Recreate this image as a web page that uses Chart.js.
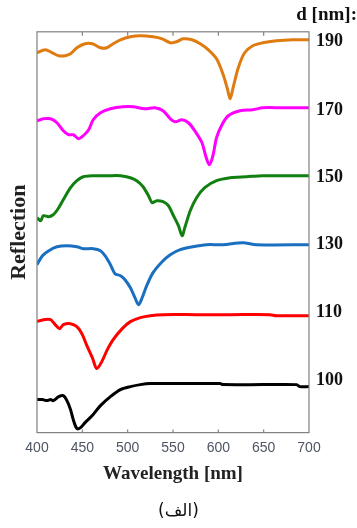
<!DOCTYPE html>
<html>
<head>
<meta charset="utf-8">
<script src="https://cdn.jsdelivr.net/npm/chart.js@4"></script>
<style>
  body { margin: 0; background: #fff; }
  #wrap { width: 357px; height: 528px; }
</style>
</head>
<body>
<div id="wrap"><canvas id="chart"></canvas></div>
<script>
'use strict';

// reflection spectra, offset vertically (arbitrary units)
const wl190 = [400,409,417,424,431,437,444,453,461,470,477,484,492,503,514,528,538,547,554,561,571,580,589,598,605,610,613,616,622,629,638,649,664,682,700];
const r190  = [380,383,380,377,377,379,385,389,389,385,385,389,393,396,397,396,394,390,391,394,393,389,383,374,359,344,334,344,365,380,387,390,392,393,393];

const wl170 = [400,407,415,422,429,435,440,446,451,457,462,470,481,495,506,519,530,539,547,552,560,567,574,582,586,590,594,598,604,611,624,638,649,671,700];
const r170  = [312,314,314,310,302,298,298,294,297,303,313,320,324,326,326,324,325,322,314,311,313,310,302,290,277,268,277,295,308,317,322,323,325,325,325];

const wl150 = [400,404,407,413,418,424,429,437,444,451,462,477,492,503,510,517,523,527,532,539,545,550,556,560,563,569,576,585,598,613,631,649,700];
const r150  = [215,212,217,216,218,225,233,245,252,256,257,257,257,255,252,246,237,230,232,231,227,218,207,197,205,222,235,245,252,255,256,257,257];

const wl130 = [400,406,413,422,433,444,451,462,470,475,481,486,492,497,503,508,512,516,521,528,538,547,558,572,587,605,627,642,700];
const r130  = [168,177,182,186,187,186,184,184,182,177,168,159,157,153,145,135,128,135,147,160,171,178,183,186,188,188,190,188,188];

const wl110 = [400,407,415,420,425,429,437,444,450,455,461,466,472,477,484,494,503,514,525,539,576,613,657,664,700];
const r110  = [111,113,113,108,104,108,109,106,98,87,75,64,72,82,93,104,111,115,117,118,118,118,118,117,117];

const wl100 = [400,406,411,415,418,424,429,433,437,440,444,448,453,461,470,481,492,503,514,525,558,602,605,649,686,690,700];
const r100  = [33,33,32,33,32,36,37,32,23,13,4,5,10,17,27,36,43,46,48,49,49,49,48,48,48,46,46];

// thickness labels on the right, at each curve's plateau level
const dLabels = ['190','170','150','130','110','100'];
const dLevels = [391,322,255,188,120,52];

const xTicks = [450,500,550,600,650];

function pts(wl, r) {
  return wl.map((w, i) => ({x: w, y: r[i]}));
}

function series(label, wl, r, color) {
  return {
    label: label,
    data: pts(wl, r),
    borderColor: color,
    borderWidth: 3,
    pointRadius: 0,
    tension: 0.3,
    yAxisID: 'y'
  };
}

const serif = 'Liberation Serif, Times New Roman, serif';

// frame + inward tick marks
const frame = {
  id: 'frame',
  afterDatasetsDraw(chart) {
    const {ctx, chartArea: a, scales} = chart;
    ctx.save();
    ctx.strokeStyle = '#808080';
    ctx.lineWidth = 1.2;
    ctx.strokeRect(a.left, a.top, a.right - a.left, a.bottom - a.top);
    xTicks.forEach(v => {
      const px = scales.x.getPixelForValue(v);
      ctx.beginPath();
      ctx.moveTo(px, a.bottom);
      ctx.lineTo(px, a.bottom - 3);
      ctx.moveTo(px, a.top);
      ctx.lineTo(px, a.top + 4);
      ctx.stroke();
    });
    ctx.restore();
  }
};

new Chart(document.getElementById('chart'), {
  type: 'line',
  data: {
    datasets: [
      series('190', wl190, r190, '#e07b10'),
      series('170', wl170, r170, '#ff00ff'),
      series('150', wl150, r150, '#118011'),
      series('130', wl130, r130, '#1b6fc0'),
      series('110', wl110, r110, '#ff0000'),
      series('100', wl100, r100, '#000000')
    ]
  },
  options: {
    responsive: true,
    maintainAspectRatio: false,
    animation: false,
    layout: { padding: 0 },
    plugins: {
      legend: { display: false },
      tooltip: { enabled: false },
      title: {
        display: true,
        text: 'd [nm]:',
        align: 'end',
        color: '#111',
        font: { family: serif, size: 19, weight: 'bold' },
        padding: { top: 4, bottom: 5 }
      },
      subtitle: {
        display: true,
        position: 'bottom',
        text: '(الف)',
        color: '#111',
        font: { family: 'DejaVu Sans', size: 17, weight: 'normal' },
        padding: { top: 2, bottom: 6 }
      }
    },
    scales: {
      x: {
        type: 'linear',
        min: 400,
        max: 700,
        afterBuildTicks: s => { s.ticks = [400,450,500,550,600,650,700].map(v => ({value: v})); },
        afterFit: s => { s.height = 67; },
        grid: { display: false, drawTicks: false },
        border: { display: false },
        ticks: {
          padding: 7,
          color: '#4e5563',
          font: { family: 'Liberation Sans Narrow, Arial Narrow, sans-serif', size: 14 }
        },
        title: {
          display: true,
          text: 'Wavelength [nm]',
          color: '#222',
          font: { family: serif, size: 19, weight: 'bold' },
          padding: { top: 0, bottom: 14 }
        }
      },
      y: {
        position: 'left',
        min: 0,
        max: 401,
        afterFit: s => { s.width = 37; },
        grid: { display: false, drawTicks: false },
        border: { display: false },
        ticks: { display: false },
        title: {
          display: true,
          text: 'Reflection',
          color: '#222',
          font: { family: serif, size: 22, weight: 'bold' },
          padding: { top: 6, bottom: 0 }
        }
      },
      y2: {
        position: 'right',
        min: 0,
        max: 401,
        afterFit: s => { s.width = 48; },
        afterBuildTicks: s => { s.ticks = dLevels.map(v => ({value: v})); },
        grid: { display: false, drawTicks: false },
        border: { display: false },
        ticks: {
          padding: 7,
          color: '#111',
          font: { family: serif, size: 18, weight: 'bold' },
          callback: (v, i) => dLabels[i]
        }
      }
    }
  },
  plugins: [frame]
});
</script>
</body>
</html>
